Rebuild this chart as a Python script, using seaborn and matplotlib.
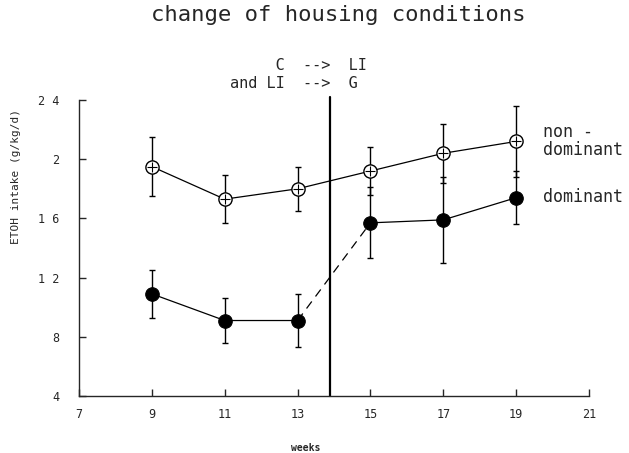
import numpy as np
import pandas as pd
import matplotlib
matplotlib.use("Agg")
import matplotlib.pyplot as plt
import seaborn as sns

# ---- data ----
weeks = [9, 11, 13, 15, 17, 19]
nondominant = [1.95, 1.73, 1.80, 1.92, 2.04, 2.12]
nondominant_err = [0.20, 0.16, 0.15, 0.16, 0.20, 0.24]
dominant = [1.09, 0.91, 0.91, 1.57, 1.59, 1.74]
dominant_err = [0.16, 0.15, 0.18, 0.24, 0.29, 0.18]
x_ticks = [7, 9, 11, 13, 15, 17, 19, 21]
y_ticks = [0.4, 0.8, 1.2, 1.6, 2.0, 2.4]
y_tick_labels = ["4", "8", "1 2", "1 6", "2", "2 4"]
change_week = 13.9

sns.set_style("ticks")
plt.rcParams["font.family"] = ["DejaVu Sans Mono", "DejaVu Sans"]

W, H = 629, 453
fig = plt.figure(figsize=(W / 100, H / 100), dpi=100)
ax = fig.add_axes([79 / W, (H - 396) / H, (589 - 79) / W, (396 - 100) / H])

df_nd = pd.DataFrame({"week": weeks, "val": nondominant})
df_d = pd.DataFrame({"week": weeks, "val": dominant})

# error bars
ax.errorbar(weeks, nondominant, yerr=nondominant_err, fmt="none", ecolor="black",
            elinewidth=1.0, capsize=2.5, capthick=1.0, zorder=2)
ax.errorbar(weeks, dominant, yerr=dominant_err, fmt="none", ecolor="black",
            elinewidth=1.0, capsize=2.5, capthick=1.0, zorder=2)

# non-dominant line with open circles
sns.lineplot(data=df_nd, x="week", y="val", ax=ax, color="black", linewidth=0.9,
             marker="o", markersize=9.5, markerfacecolor="white",
             markeredgecolor="black", markeredgewidth=1.0, zorder=3)
ax.scatter(weeks, nondominant, marker="+", s=55, color="black", linewidths=0.8, zorder=4)

# dominant: solid before, dashed across the change, solid after
sns.lineplot(data=df_d.iloc[:3], x="week", y="val", ax=ax, color="black", linewidth=0.9,
             zorder=3)
sns.lineplot(data=df_d.iloc[3:], x="week", y="val", ax=ax, color="black", linewidth=0.9,
             zorder=3)
sns.lineplot(data=df_d.iloc[2:4], x="week", y="val", ax=ax, color="black", linewidth=0.9,
             linestyle=(0, (7, 5)), zorder=3)
sns.scatterplot(data=df_d, x="week", y="val", ax=ax, color="black", s=95,
                edgecolor="black", zorder=4)

# vertical line at housing change
ax.axvline(change_week, ymin=0, ymax=1.01, color="black", linewidth=1.6, zorder=1,
           clip_on=False)

ax.set_xlim(7, 21)
ax.set_ylim(0.4, 2.4)
ax.set_xticks(x_ticks)
ax.set_yticks(y_ticks)
ax.set_yticklabels(y_tick_labels)
ax.tick_params(axis="both", direction="in", length=5, width=1, labelsize=8.5)
ax.tick_params(axis="y", pad=14)
ax.tick_params(axis="x", pad=9)
sns.despine(ax=ax)
ax.spines["left"].set_linewidth(1)
ax.spines["bottom"].set_linewidth(1)
ax.set_xlabel("")
ax.set_ylabel("")

fig.text(306 / W, 1 - 448 / H, "weeks", ha="center", va="center", fontsize=7,
         fontweight="bold")
fig.text(16 / W, 1 - 176 / H, "ETOH intake (g/kg/d)", ha="center", va="center",
         fontsize=8, rotation=90)

fig.text(338 / W, 1 - 15 / H, "change of housing conditions", ha="center", va="center",
         fontsize=16)
fig.text(230 / W, 1 - 66 / H, "     C  -->  LI", ha="left", va="center", fontsize=11)
fig.text(230 / W, 1 - 83 / H, "and LI  -->  G", ha="left", va="center", fontsize=11)

fig.text(543 / W, 1 - 141 / H, "non -\ndominant", ha="left", va="center", fontsize=12,
         linespacing=1.0)
fig.text(543 / W, 1 - 197 / H, "dominant", ha="left", va="center", fontsize=12)

fig.savefig("out.png", dpi=100)
